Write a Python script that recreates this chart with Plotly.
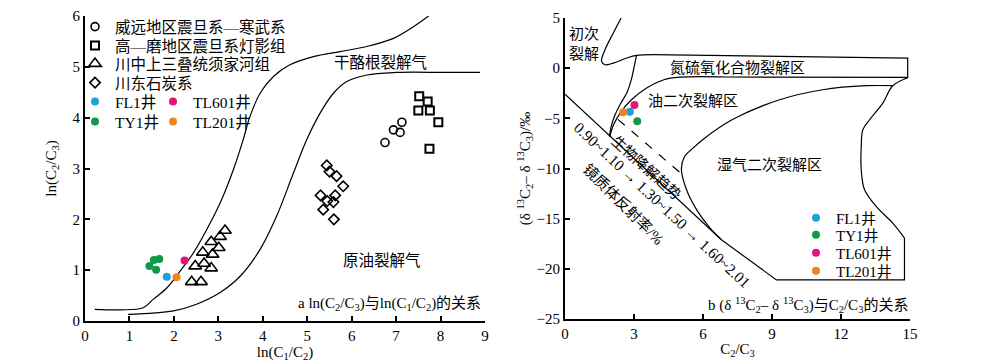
import plotly.graph_objects as go

FONT = "Liberation Serif, Noto Sans CJK SC, serif"
FS = 15

# ---------------- Panel a data ----------------
weiyuan_x = [6.75, 6.94, 7.09, 7.13]
weiyuan_y = [3.51, 3.76, 3.71, 3.91]
gaomo_x = [7.52, 7.71, 7.50, 7.76, 7.95, 7.75]
gaomo_y = [4.42, 4.32, 4.14, 4.14, 3.91, 3.39]
xujiahe_x = [3.15, 3.04, 2.84, 3.01, 2.65, 2.87, 2.48, 2.68, 2.84, 2.40, 2.61]
xujiahe_y = [1.78, 1.66, 1.56, 1.44, 1.35, 1.31, 1.08, 1.13, 1.04, 0.77, 0.77]
chuandong_x = [5.44, 5.50, 5.66, 5.81, 5.30, 5.63, 5.45, 5.59, 5.36, 5.60]
chuandong_y = [3.06, 2.94, 2.85, 2.65, 2.47, 2.47, 2.36, 2.34, 2.19, 2.00]

a_fl1_x, a_fl1_y = [1.84], [0.87]
a_ty1_x, a_ty1_y = [1.67, 1.55, 1.45, 1.60], [1.22, 1.20, 1.08, 1.01]
a_tl601_x, a_tl601_y = [2.24], [1.19]
a_tl201_x, a_tl201_y = [2.06], [0.86]

kerogen_x = [0.22, 0.79, 1.31, 1.54, 1.84, 2.14, 2.44, 2.74, 3.04, 3.34, 3.56, 3.71, 3.94,
             4.24, 4.61, 5.14, 5.74, 6.34, 6.94, 7.39, 7.73]
kerogen_y = [0.23, 0.22, 0.26, 0.43, 0.65, 0.98, 1.34, 1.80, 2.32, 2.98, 3.57, 4.02, 4.48,
             4.81, 5.04, 5.20, 5.30, 5.40, 5.56, 5.79, 6.00]
oil_x = [0.97, 1.99, 2.51, 3.04, 3.49, 3.94, 4.31, 4.69, 4.99, 5.29, 5.59, 5.89, 6.34, 7.01, 8.14, 8.89]
oil_y = [0.13, 0.20, 0.33, 0.56, 0.88, 1.41, 2.06, 2.91, 3.57, 4.09, 4.48, 4.71, 4.84, 4.89, 4.89, 4.89]

# ---------------- Panel b data ----------------
b_fl1_x, b_fl1_y = [2.82], [-4.34]
b_ty1_x, b_ty1_y = [3.14], [-5.30]
b_tl601_x, b_tl601_y = [3.02], [-3.67]
b_tl201_x, b_tl201_y = [2.53], [-4.40]

primary_x = [2.44, 2.10, 1.74, 1.59, 1.74, 2.10, 2.68, 3.11, 3.83]
primary_y = [5.0, 3.5, 1.84, 0.67, 0.34, 0.51, 1.01, 1.27, 1.35]
nso_box_x = [3.83, 14.9, 14.9, 7.0]
nso_box_y = [1.35, 1.0, -0.92, -0.88]
oil2_upper_x = [7.0, 5.0, 4.3, 3.55, 2.89, 2.45, 2.12, 1.95]
oil2_upper_y = [-0.88, -0.9, -1.15, -1.98, -3.15, -4.3, -5.6, -6.8]
oil2_left_x = [3.11, 3.02, 2.90, 2.70, 2.40, 2.15, 2.00, 1.93]
oil2_left_y = [1.27, 0.30, -1.00, -2.40, -3.60, -4.80, -5.90, -6.80]
wet_top_x = [6.80, 6.29, 5.72, 5.28, 5.06, 5.2, 5.5, 6.0, 7.3, 9.33, 11.2, 13.1, 14.25]
wet_top_y = [-17.1, -15.9, -14.1, -12.1, -10.0, -8.8, -8.1, -7.1, -5.1, -3.15, -2.15, -1.75, -1.75]
wet_right_x = [14.9, 14.25, 13.82, 13.24, 12.95, 12.88, 12.88, 13.02, 13.53, 14.25, 14.76]
wet_right_y = [-0.95, -1.75, -3.48, -5.14, -6.14, -7.8, -10.1, -12.1, -13.78, -15.44, -16.93]
wet_bottom_x = [14.76, 14.76, 9.19, 6.80]
wet_bottom_y = [-16.93, -21.1, -21.1, -17.1]
ro_line_x = [0.0, 6.8]
ro_line_y = [-2.6, -17.1]
biodeg_x = [2.3, 5.1]
biodeg_y = [-5.1, -10.6]

BLUE = "#1E9FE0"
GREEN = "#0E9A48"
MAGENTA = "#E4147A"
ORANGE = "#F08519"

# page body has an 8px offset; plot area on screen: x 85..910, y 16..321
OFF = 8
W, H = 1000 - OFF, 363 - OFF
L, T = 85 - OFF, 16 - OFF
R, B = W - (910 - OFF), H - (321 - OFF)
PW, PH = W - L - R, H - T - B


def px(xs):
    return (xs - 85) / PW


def py(ys):
    return (321 - ys) / PH


fig = go.Figure()

line_style = dict(color="black", width=1.2)

# ---- panel a curves
fig.add_trace(go.Scatter(x=kerogen_x, y=kerogen_y, mode="lines", line=dict(shape="spline", **line_style),
                         showlegend=False, hoverinfo="skip", xaxis="x", yaxis="y"))
fig.add_trace(go.Scatter(x=oil_x, y=oil_y, mode="lines", line=dict(shape="spline", **line_style),
                         showlegend=False, hoverinfo="skip", xaxis="x", yaxis="y"))

open_line = dict(color="black", width=1.6)
fig.add_trace(go.Scatter(x=weiyuan_x, y=weiyuan_y, mode="markers", name="威远地区震旦系—寒武系",
                         marker=dict(symbol="circle-open", size=8, line=open_line, color="black"),
                         legend="legend"))
fig.add_trace(go.Scatter(x=gaomo_x, y=gaomo_y, mode="markers", name="高—磨地区震旦系灯影组",
                         marker=dict(symbol="square-open", size=8, line=dict(color="black", width=2), color="black"),
                         legend="legend2"))
fig.add_trace(go.Scatter(x=xujiahe_x, y=xujiahe_y, mode="markers", name="川中上三叠统须家河组",
                         marker=dict(symbol="triangle-up-open", size=11, line=open_line, color="black"),
                         legend="legend3"))
fig.add_trace(go.Scatter(x=chuandong_x, y=chuandong_y, mode="markers", name="川东石炭系",
                         marker=dict(symbol="diamond-open", size=8, line=open_line, color="black"),
                         legend="legend4"))
fig.add_trace(go.Scatter(x=a_ty1_x, y=a_ty1_y, mode="markers", name="TY1井",
                         marker=dict(size=8, color=GREEN), legend="legend6"))
fig.add_trace(go.Scatter(x=a_fl1_x, y=a_fl1_y, mode="markers", name="FL1井",
                         marker=dict(size=8, color=BLUE), legend="legend5"))
fig.add_trace(go.Scatter(x=a_tl601_x, y=a_tl601_y, mode="markers", name="TL601井",
                         marker=dict(size=8, color=MAGENTA), legend="legend7"))
fig.add_trace(go.Scatter(x=a_tl201_x, y=a_tl201_y, mode="markers", name="TL201井",
                         marker=dict(size=8, color=ORANGE), legend="legend8"))

# ---- panel b curves
for xs, ys, shape in [(primary_x, primary_y, "spline"), (nso_box_x, nso_box_y, "linear"),
                      (oil2_upper_x, oil2_upper_y, "spline"), (oil2_left_x, oil2_left_y, "spline"),
                      (wet_top_x, wet_top_y, "spline"), (wet_right_x, wet_right_y, "spline"),
                      (wet_bottom_x, wet_bottom_y, "linear"), (ro_line_x, ro_line_y, "linear")]:
    fig.add_trace(go.Scatter(x=xs, y=ys, mode="lines", line=dict(shape=shape, **line_style),
                             showlegend=False, hoverinfo="skip", xaxis="x2", yaxis="y2"))
fig.add_trace(go.Scatter(x=biodeg_x, y=biodeg_y, mode="lines",
                         line=dict(color="black", width=1.2, dash="dash"),
                         showlegend=False, hoverinfo="skip", xaxis="x2", yaxis="y2"))

for xs, ys, nm, col, lg in [(b_fl1_x, b_fl1_y, "FL1井", BLUE, "legend9"),
                            (b_ty1_x, b_ty1_y, "TY1井", GREEN, "legend10"),
                            (b_tl601_x, b_tl601_y, "TL601井", MAGENTA, "legend11"),
                            (b_tl201_x, b_tl201_y, "TL201井", ORANGE, "legend12")]:
    fig.add_trace(go.Scatter(x=xs, y=ys, mode="markers", name=nm, marker=dict(size=8, color=col),
                             xaxis="x2", yaxis="y2", legend=lg))


def leg(xpix, ypix, size=15.5):
    return dict(x=px(xpix - 20), y=py(ypix), xanchor="left", yanchor="middle",
                bgcolor="rgba(0,0,0,0)", borderwidth=0, font=dict(family=FONT, size=size, color="black"),
                itemclick=False, itemdoubleclick=False)


axis_common = dict(showline=True, linecolor="black", linewidth=2, ticks="inside", ticklen=5,
                   tickwidth=1.5, tickcolor="black", showgrid=False, zeroline=False, automargin=False,
                   tickfont=dict(family=FONT, size=FS, color="black"), mirror=False)

fig.update_layout(
    template="none",
    width=W, height=H, margin=dict(l=L, r=R, t=T, b=B, autoexpand=False),
    paper_bgcolor="white", plot_bgcolor="white",
    font=dict(family=FONT, size=FS, color="black"),
    xaxis=dict(domain=[0, px(485)], range=[0, 9], tickvals=list(range(10)),
               title=dict(text="ln(C<sub>1</sub>/C<sub>2</sub>)", font=dict(family=FONT, size=FS), standoff=2),
               **axis_common),
    yaxis=dict(domain=[0, 1], range=[0, 6], tickvals=list(range(7)),
               title=dict(text="ln(C<sub>2</sub>/C<sub>3</sub>)", font=dict(family=FONT, size=FS), standoff=12),
               **axis_common),
    xaxis2=dict(domain=[px(565), 1], range=[0, 15], tickvals=[0, 3, 6, 9, 12, 15], anchor="y2",
                title=dict(text="C<sub>2</sub>/C<sub>3</sub>", font=dict(family=FONT, size=FS), standoff=2),
                **axis_common),
    yaxis2=dict(domain=[py(319), py(18)], range=[-25, 5], tickvals=[5, 0, -5, -10, -15, -20, -25], anchor="x2",
                title=dict(text="(δ <sup>13</sup>C<sub>2</sub>– δ <sup>13</sup>C<sub>3</sub>)/‰",
                           font=dict(family=FONT, size=FS), standoff=2),
                **axis_common),
    legend=leg(95, 27), legend2=leg(95, 46), legend3=leg(95, 64), legend4=leg(95, 83),
    legend5=leg(95, 102), legend6=leg(95, 122), legend7=leg(173, 102), legend8=leg(173, 122),
    legend9=leg(816, 218, 15), legend10=leg(816, 235, 15), legend11=leg(816, 253, 15),
    legend12=leg(816, 271, 15),
)

ann = []


def add_text(text, x, y, xref, yref, xanchor="center", size=FS, angle=0):
    ann.append(dict(text=text, x=x, y=y, xref=xref, yref=yref, showarrow=False, xanchor=xanchor,
                    yanchor="middle", textangle=angle, font=dict(family=FONT, size=size, color="black")))


add_text("干酪根裂解气", 6.64, 5.08, "x", "y", size=15.5)
add_text("原油裂解气", 6.69, 1.2, "x", "y", size=15.5)
add_text("a ln(C<sub>2</sub>/C<sub>3</sub>)与ln(C<sub>1</sub>/C<sub>2</sub>)的关系", 8.95, 0.33, "x", "y",
         xanchor="right")

add_text("初次<br>裂解", 0.08, 2.43, "x2", "y2", xanchor="left")
add_text("氮硫氧化合物裂解区", 7.48, 0.04, "x2", "y2")
add_text("油二次裂解区", 5.58, -3.3, "x2", "y2")
add_text("湿气二次裂解区", 8.9, -9.7, "x2", "y2")
add_text("0.90~1.10 → 1.30~1.50 → 1.60~2.01", 4.2, -13.6, "x2", "y2", size=15.5, angle=43)
add_text("镜质体反射率/%", 2.56, -13.6, "x2", "y2", angle=45)
add_text("生物降解趋势", 3.55, -9.9, "x2", "y2", size=14.5, angle=42)
add_text("b (δ <sup>13</sup>C<sub>2</sub>– δ <sup>13</sup>C<sub>3</sub>)与C<sub>2</sub>/C<sub>3</sub>的关系",
         15.0, -23.6, "x2", "y2", xanchor="right")

fig.update_layout(annotations=ann)

fig.write_html("out.html")
